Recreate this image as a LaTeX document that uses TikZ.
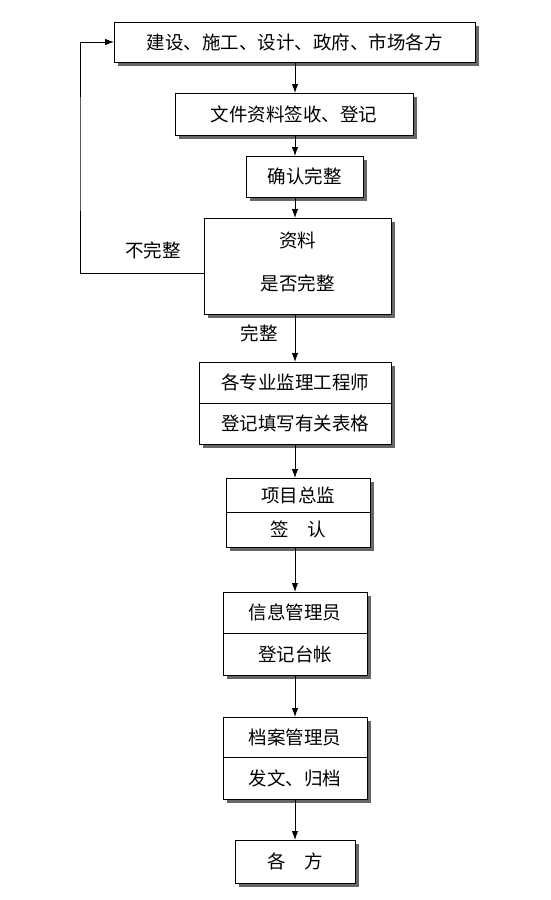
\documentclass[tikz,border=0pt]{standalone}
\usepackage{fontspec}
\setmainfont{Noto Sans CJK SC}
\usetikzlibrary{arrows.meta,backgrounds}

\tikzset{
  box/.style={draw, fill=white, line width=1pt, inner sep=0pt, outer sep=0pt,
    font=\fontsize{18.5}{22}\selectfont},
  lbl/.style={font=\fontsize{18.5}{22}\selectfont},
  arr/.style={line width=0.9pt, -{Latex[length=9pt,width=6.5pt]}}
}

\begin{document}
\begin{tikzpicture}[x=1pt,y=-1pt]
\useasboundingbox (0,0) rectangle (551,900);
\coordinate (spine) at (295,0);
\coordinate (back) at (80,150);
% boxes
\node[box, minimum width=361pt, minimum height=40pt] (parties) at (294.5,42) {建设、施工、设计、政府、市场各方};
\node[box, minimum width=238pt, minimum height=42pt] (receive) at (294,114) {文件资料签收、登记};
\node[box, minimum width=117pt, minimum height=41pt] (confirm) at (304.5,176.5) {确认完整};
\node[box, minimum width=187pt, minimum height=96pt, align=center] (check) at (297.5,266) {资料\\[21pt]是否完整\\[-12pt]\mbox{}};
\node[box, minimum width=192pt, minimum height=41pt] (eng) at (295,382.5) {各专业监理工程师};
\node[box, minimum width=192pt, minimum height=41pt] (engform) at (295,423.5) {登记填写有关表格};
\node[box, minimum width=144pt, minimum height=34.5pt] (chief) at (298,495.25) {项目总监};
\node[box, minimum width=144pt, minimum height=34.5pt] (chiefsign) at (298,529.75) {签　认};
\node[box, minimum width=144pt, minimum height=41pt] (info) at (295,612.5) {信息管理员};
\node[box, minimum width=144pt, minimum height=42pt] (infolog) at (295,654) {登记台帐};
\node[box, minimum width=144pt, minimum height=40pt] (arch) at (295,737) {档案管理员};
\node[box, minimum width=144pt, minimum height=42pt] (archfile) at (295,778) {发文、归档};
\node[box, minimum width=120pt, minimum height=43pt] (all) at (295,861.5) {各　方};
% shadows
\begin{scope}[on background layer]
\foreach \n in {parties,receive,confirm,check,eng,engform,chief,chiefsign,info,infolog,arch,archfile,all}
  \fill[black!60] ([xshift=3.5pt,yshift=-3.5pt]\n.north west) rectangle ([xshift=3.5pt,yshift=-3.5pt]\n.south east);
\end{scope}
% labels
\node[lbl] (incomplete) at (153,250) {不完整};
\node[lbl] (complete) at (259,333) {完整};
% arrows
\draw[arr] (spine |- parties.south) -- (spine |- receive.north);
\draw[arr] (spine |- receive.south) -- (spine |- confirm.north);
\draw[arr] (spine |- confirm.south) -- (spine |- check.north);
\draw[arr] (spine |- check.south) -- (spine |- eng.north);
\draw[arr] (spine |- engform.south) -- (spine |- chief.north);
\draw[arr] (spine |- chiefsign.south) -- (spine |- info.north);
\draw[arr] (spine |- infolog.south) -- (spine |- arch.north);
\draw[arr] (spine |- archfile.south) -- (spine |- all.north);
\draw[arr] ([yshift=-7pt]check.west) -| (back) |- (parties.west);
\end{tikzpicture}
\end{document}
